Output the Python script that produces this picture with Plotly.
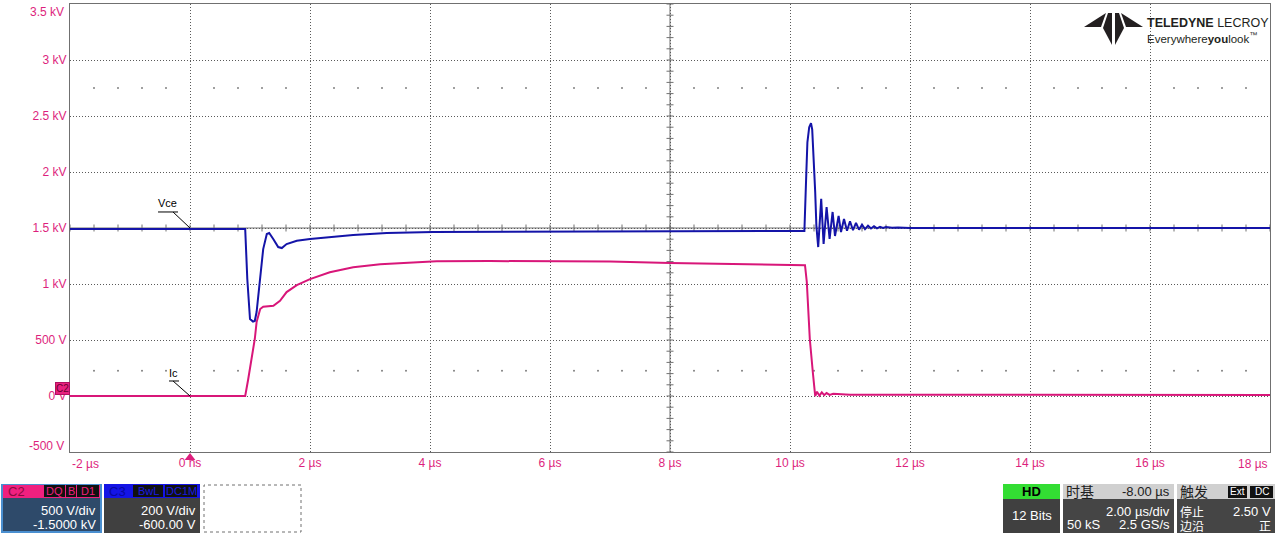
import plotly.graph_objects as go

# Vce trace (µs, V)
vce_t = [-2.0, 0.90, 0.92, 0.955, 1.0, 1.05, 1.08, 1.11, 1.17, 1.22, 1.28, 1.32, 1.39, 1.47,
         1.53, 1.61, 1.78, 2.0, 2.72, 3.28, 4.05, 5.0, 6.0, 7.0, 8.0, 9.0, 10.0, 10.24,
         10.27, 10.29, 10.32, 10.35, 10.37, 10.39, 10.42, 10.44, 10.47, 10.52, 10.56, 10.61,
         10.66, 10.71, 10.75, 10.81, 10.85, 10.90, 10.95, 11.00, 11.05, 11.10, 11.15, 11.20,
         11.25, 11.30, 11.35, 11.40, 11.45, 11.50, 11.55, 11.60, 11.70, 11.80, 12.0, 18.0]
vce_v = [1490, 1490, 1491, 1045, 687, 665, 670, 750, 1045, 1312, 1446, 1455, 1400, 1330,
         1321, 1357, 1386, 1402, 1437, 1455, 1464, 1465, 1468, 1470, 1472, 1473, 1474, 1474,
         1960, 2265, 2400, 2435, 2380, 2200, 1820, 1516, 1330, 1760, 1357, 1687,
         1402, 1643, 1429, 1607, 1464, 1580, 1475, 1560, 1480, 1545, 1485, 1530,
         1490, 1520, 1495, 1515, 1497, 1510, 1500, 1508, 1502, 1505, 1500, 1500]

# Ic trace (µs, displayed in V on the C2 scale)
ic_t = [-2.0, 0.92, 0.97, 1.03, 1.08, 1.11, 1.17, 1.22, 1.39, 1.50, 1.61, 1.78, 2.0, 2.33,
        2.72, 3.17, 3.61, 4.11, 5.0, 6.0, 7.0, 8.0, 9.0, 10.0, 10.25, 10.28, 10.33, 10.38,
        10.42, 10.45, 10.49, 10.53, 10.57, 10.61, 10.66, 10.72, 11.0, 18.0]
ic_v = [0, 0, 150, 350, 509, 660, 777, 797, 805, 850, 928, 990, 1044, 1105,
        1150, 1177, 1191, 1203, 1205, 1205, 1200, 1187, 1178, 1170, 1168, 1018, 509, 214,
        0, 38, 3, 33, 8, 26, 10, 20, 12, 10]

x_tick_vals = [0, 2, 4, 6, 8, 10, 12, 14, 16]
x_tick_text = ["0 ns", "2 µs", "4 µs", "6 µs", "8 µs", "10 µs", "12 µs", "14 µs", "16 µs"]
y_tick_vals = [0, 500, 1000, 1500, 2000, 2500, 3000]
y_tick_text = ["0 V", "500 V", "1 kV", "1.5 kV", "2 kV", "2.5 kV", "3 kV"]

minor_x = [-2 + 0.4 * i for i in range(51)]
minor_y = [-500 + 100 * i for i in range(41)]

# ---------------- styling ----------------
MAG = "#dd1f7d"
MAG_TRACE = "#d81679"
BLUE = "#1414a8"
GRID = "#5a5a5a"
FONT = "Liberation Sans, Arial, sans-serif"
CJK = "Noto Sans CJK SC, sans-serif"

W, H = 1280, 534
L, R, T, B = 70, 10, 4, 82


def X(px):
    return (px - L) / (W - L - R)


def Y(py):
    return (H - B - py) / (H - T - B)


fig = go.Figure()

# dotted rows of minor marks
dot_x = [x for x in minor_x if abs(x / 2 - round(x / 2)) > 1e-6]
for yv in (2750, 225):
    fig.add_trace(go.Scatter(x=dot_x, y=[yv] * len(dot_x), mode="markers",
                             marker=dict(size=2, color="#808080"), hoverinfo="skip",
                             showlegend=False))
# center-axis ticks
fig.add_trace(go.Scatter(x=minor_x, y=[1500] * len(minor_x), mode="markers",
                         marker=dict(symbol="line-ns", size=5, line=dict(width=1, color="#707070")),
                         hoverinfo="skip", showlegend=False))
fig.add_trace(go.Scatter(x=[8] * len(minor_y), y=minor_y, mode="markers",
                         marker=dict(symbol="line-ew", size=5, line=dict(width=1, color="#707070")),
                         hoverinfo="skip", showlegend=False))

fig.add_trace(go.Scatter(x=ic_t, y=ic_v, mode="lines", name="Ic",
                         line=dict(color=MAG_TRACE, width=2), showlegend=False))
fig.add_trace(go.Scatter(x=vce_t, y=vce_v, mode="lines", name="Vce",
                         line=dict(color=BLUE, width=2), showlegend=False))

shapes = []
# center lines (solid)
shapes.append(dict(type="line", xref="x", yref="y", x0=-2, x1=18, y0=1500, y1=1500,
                   line=dict(color="#707070", width=1), layer="below"))
shapes.append(dict(type="line", xref="x", yref="y", x0=8, x1=8, y0=-500, y1=3500,
                   line=dict(color="#707070", width=1), layer="below"))

# label leader lines
shapes.append(dict(type="line", xref="x", yref="y", x0=-0.533, x1=-0.2, y0=1643, y1=1643,
                   line=dict(color="black", width=1)))
shapes.append(dict(type="line", xref="x", yref="y", x0=-0.283, x1=0, y0=1643, y1=1500,
                   line=dict(color="black", width=1)))
shapes.append(dict(type="line", xref="x", yref="y", x0=-0.35, x1=-0.183, y0=134, y1=134,
                   line=dict(color="black", width=1)))
shapes.append(dict(type="line", xref="x", yref="y", x0=-0.283, x1=0, y0=134, y1=0,
                   line=dict(color="black", width=1)))

# trigger marker
shapes.append(dict(type="path", xref="x", yref="paper",
                   path=f"M -0.09,{Y(460)} L 0.09,{Y(460)} L 0,{Y(453)} Z",
                   fillcolor=MAG, line=dict(width=0)))


def rect(x0, y0, x1, y1, fill, line_color=None, dash=None, lw=0):
    d = dict(type="rect", xref="paper", yref="paper", x0=X(x0), x1=X(x1), y0=Y(y1), y1=Y(y0),
             fillcolor=fill, layer="above")
    if line_color:
        d["line"] = dict(color=line_color, width=lw or 1, dash=dash or "solid")
    else:
        d["line"] = dict(width=0)
    shapes.append(d)


def poly(points, fill):
    p = "M " + " L ".join(f"{X(a)},{Y(b)}" for a, b in points) + " Z"
    shapes.append(dict(type="path", xref="paper", yref="paper", path=p, fillcolor=fill,
                       line=dict(width=0), layer="above"))


annotations = []


def text(px, py, s, size=13, color="white", anchor="left", family=FONT, bg=None, yanchor="middle"):
    a = dict(xref="paper", yref="paper", x=X(px), y=Y(py), text=s, showarrow=False,
             xanchor=anchor, yanchor=yanchor, font=dict(size=size, color=color, family=family))
    if bg:
        a["bgcolor"] = bg
    annotations.append(a)


# ---- bottom-left channel panels ----
rect(1, 484, 102, 533, "#4a8fd0")
rect(3, 485, 100, 498, "#f0207f")
rect(3, 498, 100, 531, "#2e4a6a")
text(6, 492, "C2", size=13, color="#8a0a40")
rect(44, 485, 65, 497, "#111111")
rect(66, 485, 76, 497, "#111111")
rect(77, 485, 99, 497, "#111111")
text(54.5, 491, "DQ", size=11, color="#f0207f", anchor="center")
text(71, 491, "B", size=11, color="#f0207f", anchor="center")
text(88, 491, "D1", size=11, color="#f0207f", anchor="center")
text(98, 510, "500 V/div", size=13, anchor="right")
text(98, 524, "-1.5000 kV", size=13, anchor="right")

rect(104, 484, 200, 498, "#1414e6")
rect(104, 498, 200, 533, "#404040")
text(107, 492, "C3", size=13, color="#0808a0")
rect(133, 485, 163, 497, "#111111")
rect(165, 485, 197, 497, "#111111")
text(148, 491, "BwL", size=11, color="#1a1ae0", anchor="center")
text(181, 491, "DC1M", size=11, color="#1a1ae0", anchor="center")
text(198, 510, "200 V/div", size=13, anchor="right")
text(198, 524, "-600.00 V", size=13, anchor="right")

rect(204, 485, 301, 532, "white", line_color="#707070", dash="dot", lw=1)

# ---- bottom-right acquisition panels ----
rect(1003, 484, 1060, 499, "#33dd33")
rect(1003, 499, 1060, 533, "#404040")
text(1031.5, 492, "<b>HD</b>", size=13, color="black", anchor="center")
text(1031.5, 515, "12 Bits", size=13, anchor="center")

rect(1063, 484, 1174, 499, "#d0d0d0")
rect(1063, 499, 1174, 533, "#454545")
text(1064, 491, "时基", size=14, color="#202020", family=CJK)
text(1172, 492, "-8.00 µs", size=13, color="#202020", anchor="right")
text(1172, 511, "2.00 µs/div", size=13, anchor="right")
text(1065, 524, "50 kS", size=13)
text(1172, 524, "2.5 GS/s", size=13, anchor="right")

rect(1177, 484, 1275, 499, "#d0d0d0")
rect(1177, 499, 1275, 533, "#454545")
text(1178, 491, "触发", size=14, color="#202020", family=CJK)
rect(1228, 486, 1247, 498, "#111111")
rect(1250, 486, 1273, 498, "#111111")
text(1237.5, 492, "Ext", size=10, color="white", anchor="center")
text(1261.5, 492, "DC", size=10, color="white", anchor="center")
text(1178, 511, "停止", size=12, family=CJK)
text(1273, 511, "2.50 V", size=13, anchor="right")
text(1178, 525, "边沿", size=12, family=CJK)
text(1273, 525, "正", size=12, anchor="right", family=CJK)

# ---- logo ----
LOGO = "#231f20"
poly([(1084, 27), (1106, 13), (1101, 27)], LOGO)
poly([(1143, 27), (1121, 13), (1126, 27)], LOGO)
poly([(1108, 13), (1112, 13), (1112, 45), (1103, 28)], LOGO)
poly([(1115, 13), (1119, 13), (1124, 28), (1115, 45)], LOGO)
text(1145, 23, "<b>TELEDYNE</b> LECROY", size=12.5, color=LOGO, family=FONT)
text(1145, 38, "Everywhere<b>you</b>look<sup>™</sup>", size=11.5, color=LOGO, family=FONT)

# ---- axis end labels ----
annotations.append(dict(xref="x", yref="paper", x=-2, y=Y(455), text="-2 µs", showarrow=False,
                        xanchor="left", yanchor="top", font=dict(size=12, color=MAG, family=FONT)))
annotations.append(dict(xref="x", yref="paper", x=18, y=Y(455), text="18 µs", showarrow=False,
                        xanchor="right", yanchor="top", font=dict(size=12, color=MAG, family=FONT)))
annotations.append(dict(xref="paper", yref="y", x=X(66), y=3500, yshift=-8, text="3.5 kV",
                        showarrow=False, xanchor="right", yanchor="middle",
                        font=dict(size=12, color=MAG, family=FONT)))
annotations.append(dict(xref="paper", yref="y", x=X(66), y=-500, yshift=6, text="-500 V",
                        showarrow=False, xanchor="right", yanchor="middle",
                        font=dict(size=12, color=MAG, family=FONT)))
# C2 ground marker
annotations.append(dict(xref="paper", yref="y", x=X(70), y=0, yshift=8, text="C2",
                        showarrow=False, xanchor="right", yanchor="middle",
                        bgcolor="#e8207f", bordercolor="#b01060", borderwidth=1, borderpad=0,
                        font=dict(size=10, color="#6a0030", family=FONT)))
# trace labels
annotations.append(dict(xref="x", yref="y", x=-0.367, y=1643, yshift=1, text="Vce", showarrow=False,
                        xanchor="center", yanchor="bottom", font=dict(size=11, color="black", family=FONT)))
annotations.append(dict(xref="x", yref="y", x=-0.267, y=134, yshift=0, text="Ic", showarrow=False,
                        xanchor="center", yanchor="bottom", font=dict(size=11, color="black", family=FONT)))

fig.update_layout(
    width=W, height=H,
    margin=dict(l=L, r=R, t=T, b=B, pad=0),
    paper_bgcolor="white", plot_bgcolor="white",
    shapes=shapes, annotations=annotations,
    font=dict(family=FONT),
    xaxis=dict(range=[-2, 18], tickvals=x_tick_vals, ticktext=x_tick_text,
               tickfont=dict(size=12, color=MAG), showgrid=True, gridcolor=GRID,
               griddash="1px,2px", gridwidth=1, zeroline=False, showline=True,
               linecolor="#707070", linewidth=1, mirror=True, ticks="", fixedrange=True),
    yaxis=dict(range=[-500, 3500], tickvals=y_tick_vals, ticktext=y_tick_text,
               tickfont=dict(size=12, color=MAG), showgrid=True, gridcolor=GRID,
               griddash="1px,2px", gridwidth=1, zeroline=False, showline=True,
               linecolor="#707070", linewidth=1, mirror=True, ticks="", fixedrange=True),
    showlegend=False,
)

fig.write_html("out.html", config={"displayModeBar": False},
               post_script="document.body.style.margin='0px';document.body.style.overflow='hidden';")
